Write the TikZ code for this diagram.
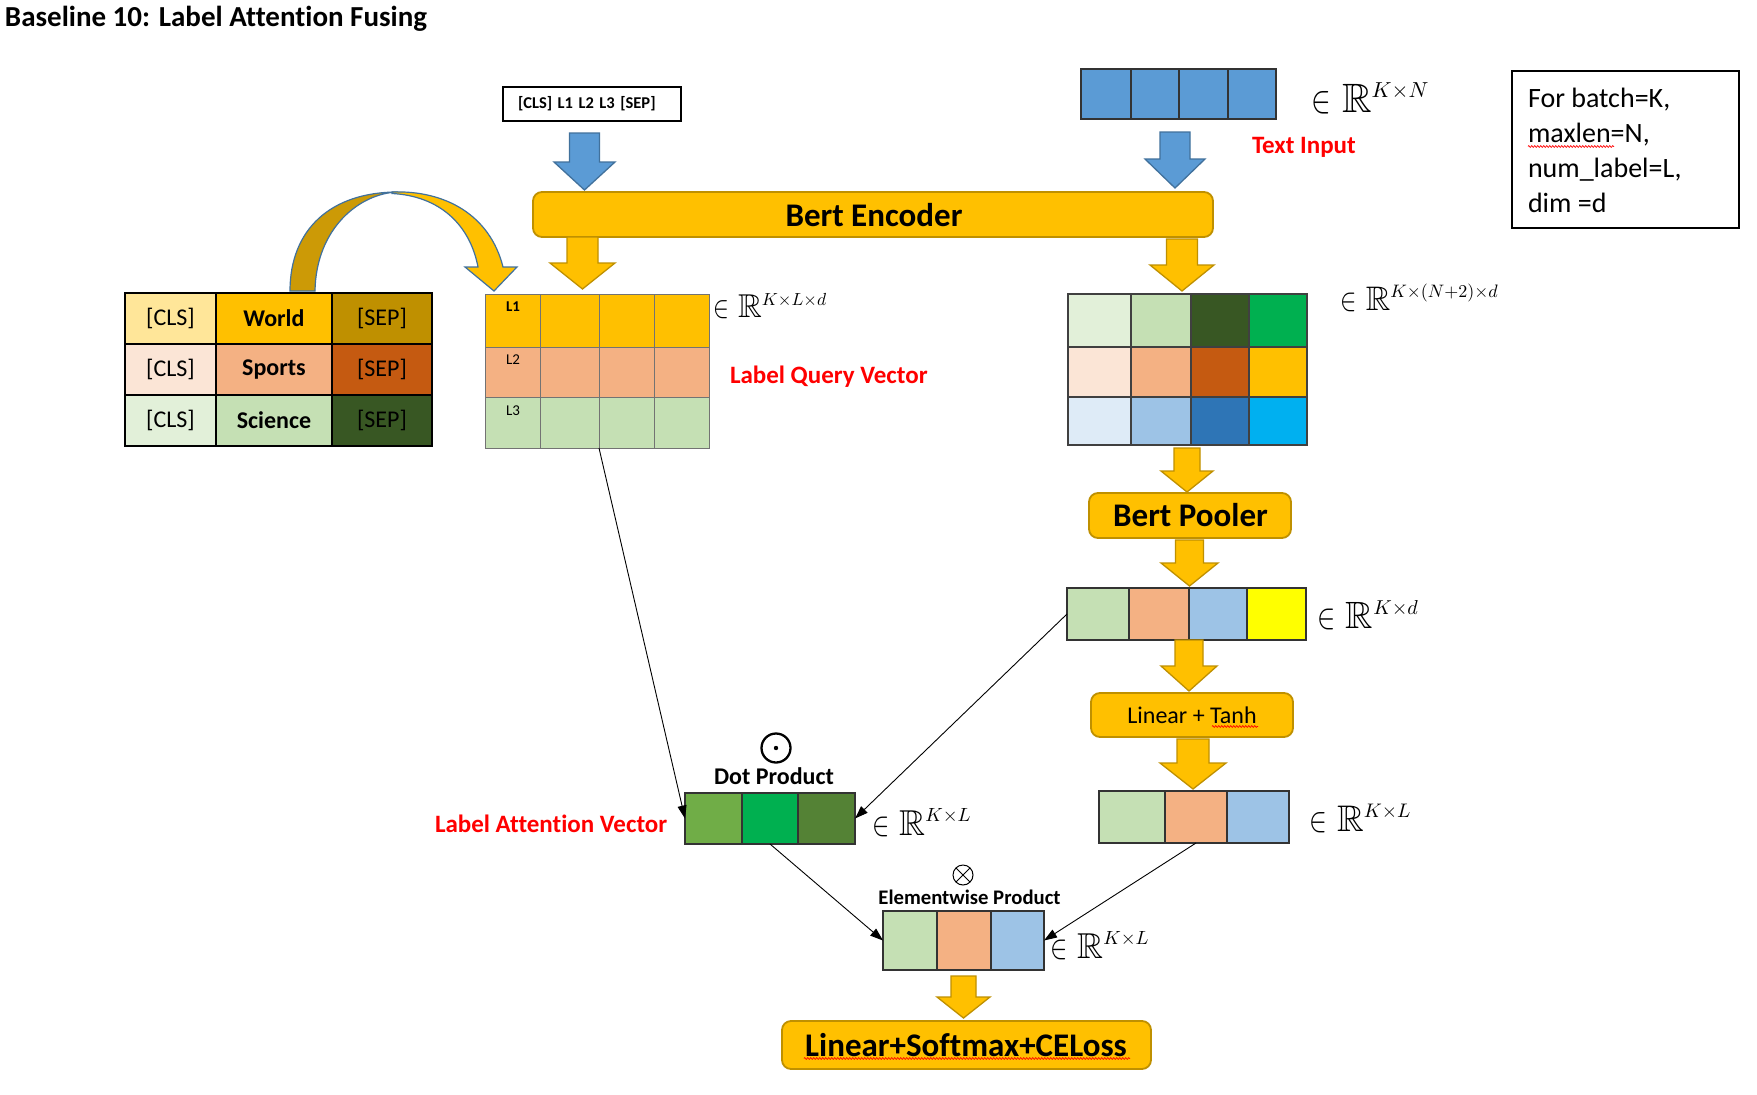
\documentclass[tikz,border=0pt]{standalone}
\usepackage{fontspec}
\setmainfont[Ligatures=NoCommon]{Carlito}
\usepackage{amssymb}
\usepackage{graphicx}
\usetikzlibrary{arrows.meta,decorations.pathmorphing}

\definecolor{gold}{HTML}{FFC000}
\definecolor{golddk}{HTML}{BF9000}
\definecolor{goldback}{HTML}{CC9A06}
\definecolor{bluefill}{HTML}{5B9BD5}
\definecolor{blueedge}{HTML}{41719C}
\definecolor{ga}{HTML}{E2F0D9}
\definecolor{gb}{HTML}{C5E0B4}
\definecolor{gc}{HTML}{385723}
\definecolor{gd}{HTML}{00B050}
\definecolor{oa}{HTML}{FBE5D6}
\definecolor{ob}{HTML}{F4B183}
\definecolor{oc}{HTML}{C55A11}
\definecolor{ba}{HTML}{DEEBF7}
\definecolor{bb}{HTML}{9DC3E6}
\definecolor{bc}{HTML}{2E75B6}
\definecolor{bd}{HTML}{00B0F0}
\definecolor{ylw}{HTML}{FFFF00}
\definecolor{lgold}{HTML}{FFE699}
\definecolor{aa}{HTML}{70AD47}
\definecolor{ac}{HTML}{548235}
\definecolor{redtxt}{HTML}{FF0000}

% #1 style, #2 name, #3 x1, #4 y1, #5 x2, #6 y2, #7 fill, #8 text
\newcommand\cell[8]{\node[#1, fill=#7, anchor=north west,
  minimum width={#5pt-#3pt}, minimum height={#6pt-#4pt}] (#2) at (#3,#4) {#8};}
% block arrow: #1 fill, #2 edge, #3 cx, #4 top, #5 shaft half width, #6 head half width, #7 head start, #8 tip
\newcommand\blockarrow[8]{\filldraw[fill=#1, draw=#2, line width=1.3pt, line join=miter]
  (#3-#5,#4) -- (#3+#5,#4) -- (#3+#5,#7) -- (#3+#6,#7) -- (#3,#8) -- (#3-#6,#7) -- (#3-#5,#7) -- cycle;}
\newcommand\inR[2]{\scalebox{#1}{$\mathrel{\scalebox{0.72}[0.95]{$\in$}}\mathbb{R}^{\scalebox{0.53}{$#2$}}$}}

\begin{document}
\begin{tikzpicture}[x=1pt,y=-1pt,
  every node/.style={inner sep=0pt, outer sep=0pt},
  tabcell/.style={draw=black, line width=2.6pt, font=\fontsize{24}{28}\selectfont},
  qcell/.style={draw=black!55, line width=1pt},
  gcell/.style={draw=black!75, line width=1.5pt},
  vcell/.style={draw=black!80, line width=1.5pt},
  ybox/.style={draw=golddk, line width=1.8pt, rounded corners=9pt},
  conn/.style={-{Triangle[length=13pt,width=9pt]}, line width=0.9pt, black},
  redlab/.style={text=redtxt, font=\bfseries\fontsize{25}{30}\selectfont},
  squig/.style={draw=red, line width=0.7pt, decorate, decoration={zigzag, segment length=3pt, amplitude=0.9pt}}
]
\useasboundingbox (0,0) rectangle (1757,1095);
\fill[white] (0,0) rectangle (1757,1095);

% title
\node[anchor=base west, font=\bfseries\fontsize{29}{34}\selectfont] (title) at (5,26) {Baseline 10: Label Attention Fusing};

% label input box
\node[draw, line width=1.2pt, anchor=north west, minimum width=178pt, minimum height=34pt,
  text width=148pt, inner xsep=15pt, align=left, font=\bfseries\fontsize{16.5}{20}\selectfont] (clsbox) at (503,87) {[CLS] L1 L2 L3 [SEP]};

% text input tensor
\cell{vcell}{t1}{1081}{69}{1131}{119}{bluefill}{}
\cell{vcell}{t2}{1131}{69}{1179}{119}{bluefill}{}
\cell{vcell}{t3}{1179}{69}{1228}{119}{bluefill}{}
\cell{vcell}{t4}{1228}{69}{1276}{119}{bluefill}{}
\node[anchor=base west] (rkn) at (1311,112) {\inR{4.1}{K{\times}N}};
\node[anchor=base west, redlab] (textin) at (1252,153) {Text Input};

% info box
\node[draw, line width=2pt, anchor=north west, minimum width=227pt, minimum height=157pt] (info) at (1512,71) {};
\node[anchor=base west, font=\fontsize{28}{34}\selectfont] (inf1) at (1528,107) {For batch=K,};
\node[anchor=base west, font=\fontsize{28}{34}\selectfont] (inf2) at (1528,142) {maxlen=N,};
\node[anchor=base west, font=\fontsize{28}{34}\selectfont] (inf3) at (1528,177) {num\_label=L,};
\node[anchor=base west, font=\fontsize{28}{34}\selectfont] (inf4) at (1528,212) {dim =d};
\draw[squig] (1528,146.5) -- (1614,146.5);

% blue arrows
\blockarrow{bluefill}{blueedge}{584.5}{133}{15}{30.5}{162}{190}
\blockarrow{bluefill}{blueedge}{1175}{132}{15}{30}{159}{188}

% Bert encoder
\cell{ybox}{enc}{533}{192}{1213}{237}{gold}{}
\node[font=\bfseries\fontsize{33}{40}\selectfont] (enctxt) at (874,215) {Bert Encoder};

% yellow arrows from encoder
\blockarrow{gold}{golddk}{582.5}{237}{15.5}{32.5}{263}{289}
\blockarrow{gold}{golddk}{1182}{239}{15.5}{32}{265}{291}

% label table
\cell{tabcell}{c11}{125}{293}{216}{344}{lgold}{[CLS]}
\cell{tabcell}{c12}{216}{293}{332}{344}{gold}{\textbf{World}}
\cell{tabcell}{c13}{332}{293}{432}{344}{golddk}{[SEP]}
\cell{tabcell}{c21}{125}{344}{216}{395}{oa}{[CLS]}
\cell{tabcell}{c22}{216}{344}{332}{395}{ob}{\textbf{Sports}}
\cell{tabcell}{c23}{332}{344}{432}{395}{oc}{[SEP]}
\cell{tabcell}{c31}{125}{395}{216}{446}{ga}{[CLS]}
\cell{tabcell}{c32}{216}{395}{332}{446}{gb}{\textbf{Science}}
\cell{tabcell}{c33}{332}{395}{432}{446}{gc}{[SEP]}

% curved arrow
\filldraw[fill=goldback, draw=blueedge, line width=1.2pt]
  (290,291) .. controls (290,230) and (330,192) .. (398,192)
  .. controls (360,193) and (316,228) .. (315,291) -- cycle;
\filldraw[fill=gold, draw=blueedge, line width=1.2pt, line join=miter]
  (392,192) .. controls (445,190) and (490,215) .. (503,267) -- (517,267) -- (494,291)
  -- (465,267) -- (478,267) .. controls (470,225) and (440,196) .. (392,193.5) -- cycle;

% label query grid
\cell{qcell}{q11}{485}{294}{540}{347}{gold}{}
\cell{qcell}{q12}{540}{294}{599}{347}{gold}{}
\cell{qcell}{q13}{599}{294}{654}{347}{gold}{}
\cell{qcell}{q14}{654}{294}{709}{347}{gold}{}
\cell{qcell}{q21}{485}{347}{540}{397}{ob}{}
\cell{qcell}{q22}{540}{347}{599}{397}{ob}{}
\cell{qcell}{q23}{599}{347}{654}{397}{ob}{}
\cell{qcell}{q24}{654}{347}{709}{397}{ob}{}
\cell{qcell}{q31}{485}{397}{540}{448}{gb}{}
\cell{qcell}{q32}{540}{397}{599}{448}{gb}{}
\cell{qcell}{q33}{599}{397}{654}{448}{gb}{}
\cell{qcell}{q34}{654}{397}{709}{448}{gb}{}
\node[font=\bfseries\fontsize{15}{17}\selectfont] (l1) at (513,307) {L1};
\node[font=\fontsize{15}{17}\selectfont] (l2) at (513,360) {L2};
\node[font=\fontsize{15}{17}\selectfont] (l3) at (513,411) {L3};
\node[anchor=base west] (rkld) at (713,317) {\inR{3.3}{K{\times}L{\times}d}};
\node[anchor=base west, redlab] (lqv) at (730,383) {Label Query Vector};

% encoder output grid
\cell{gcell}{e11}{1068}{294}{1131}{347}{ga}{}
\cell{gcell}{e12}{1131}{294}{1191}{347}{gb}{}
\cell{gcell}{e13}{1191}{294}{1249}{347}{gc}{}
\cell{gcell}{e14}{1249}{294}{1307}{347}{gd}{}
\cell{gcell}{e21}{1068}{347}{1131}{397}{oa}{}
\cell{gcell}{e22}{1131}{347}{1191}{397}{ob}{}
\cell{gcell}{e23}{1191}{347}{1249}{397}{oc}{}
\cell{gcell}{e24}{1249}{347}{1307}{397}{gold}{}
\cell{gcell}{e31}{1068}{397}{1131}{445}{ba}{}
\cell{gcell}{e32}{1131}{397}{1191}{445}{bb}{}
\cell{gcell}{e33}{1191}{397}{1249}{445}{bc}{}
\cell{gcell}{e34}{1249}{397}{1307}{445}{bd}{}
\node[anchor=base west] (rknd) at (1340,310) {\inR{3.4}{K{\times}(N{+}2){\times}d}};

% pooler
\blockarrow{gold}{golddk}{1187}{448}{13}{26}{471}{492}
\cell{ybox}{pool}{1089}{493}{1291}{538}{gold}{}
\node[font=\bfseries\fontsize{33}{40}\selectfont] (pooltxt) at (1190.5,515.5) {Bert Pooler};
\blockarrow{gold}{golddk}{1189.5}{540}{14}{28.5}{563}{586}

% pooled vector
\cell{vcell}{p1}{1067}{588}{1129}{640}{gb}{}
\cell{vcell}{p2}{1129}{588}{1189}{640}{ob}{}
\cell{vcell}{p3}{1189}{588}{1247}{640}{bb}{}
\cell{vcell}{p4}{1247}{588}{1306}{640}{ylw}{}
\node[anchor=base west] (rkd) at (1317,628) {\inR{3.8}{K{\times}d}};
\blockarrow{gold}{golddk}{1189}{640}{14}{28}{666}{691}

% linear + tanh
\cell{ybox}{lin}{1091}{693}{1293}{737}{gold}{}
\node[font=\fontsize{24}{28}\selectfont] (lintxt) at (1192,715) {Linear + Tanh};
\draw[squig] (1212,726.5) -- (1258,726.5);
\blockarrow{gold}{golddk}{1193}{739}{16}{33}{763}{789}

% right vector
\cell{vcell}{r1}{1099}{791}{1165}{843}{gb}{}
\cell{vcell}{r2}{1165}{791}{1227}{843}{ob}{}
\cell{vcell}{r3}{1227}{791}{1289}{843}{bb}{}
\node[anchor=base west] (rklb) at (1309,831) {\inR{3.7}{K{\times}L}};

% dot product
\node[circle, draw, line width=2.3pt, minimum size=29pt] (odot) at (776,748) {};
\fill (odot.center) circle (2.2pt);
\node[anchor=base, font=\bfseries\fontsize{24}{28}\selectfont] (dottxt) at (774,784) {Dot Product};
\cell{vcell}{att1}{685}{793}{742}{844}{aa}{}
\cell{vcell}{att2}{742}{793}{798}{844}{gd}{}
\cell{vcell}{att3}{798}{793}{855}{844}{ac}{}
\node[anchor=base west] (rkla) at (872,835) {\inR{3.6}{K{\times}L}};
\node[anchor=base west, redlab] (lav) at (435,832) {Label Attention Vector};

% elementwise product
\node[circle, draw, line width=1pt, minimum size=20pt] (otim) at (963,875) {};
\draw[line width=1pt] (otim.north west) -- (otim.south east);
\draw[line width=1pt] (otim.north east) -- (otim.south west);
\node[anchor=base, font=\bfseries\fontsize{20.7}{24}\selectfont] (elemtxt) at (969.5,904) {Elementwise Product};
\cell{vcell}{f1}{883}{911}{937}{970}{gb}{}
\cell{vcell}{f2}{937}{911}{991}{970}{ob}{}
\cell{vcell}{f3}{991}{911}{1044}{970}{bb}{}
\node[anchor=base west] (rklf) at (1050,958) {\inR{3.6}{K{\times}L}};

% final
\blockarrow{gold}{golddk}{963.5}{976}{12.5}{26.5}{997}{1018}
\cell{ybox}{final}{782}{1021}{1151}{1069}{gold}{}
\node[font=\bfseries\fontsize{33}{40}\selectfont] (finaltxt) at (966,1045) {Linear+Softmax+CELoss};
\draw[squig] (804,1058.5) -- (1130,1058.5);

% connectors
\draw[conn] (q33.south west) -- (att1.west);
\draw[conn] (p1.west) -- (att3.east);
\draw[conn] (att2.south) -- (f1.west);
\draw[conn] (r2.south) -- (f3.east);
\end{tikzpicture}
\end{document}
